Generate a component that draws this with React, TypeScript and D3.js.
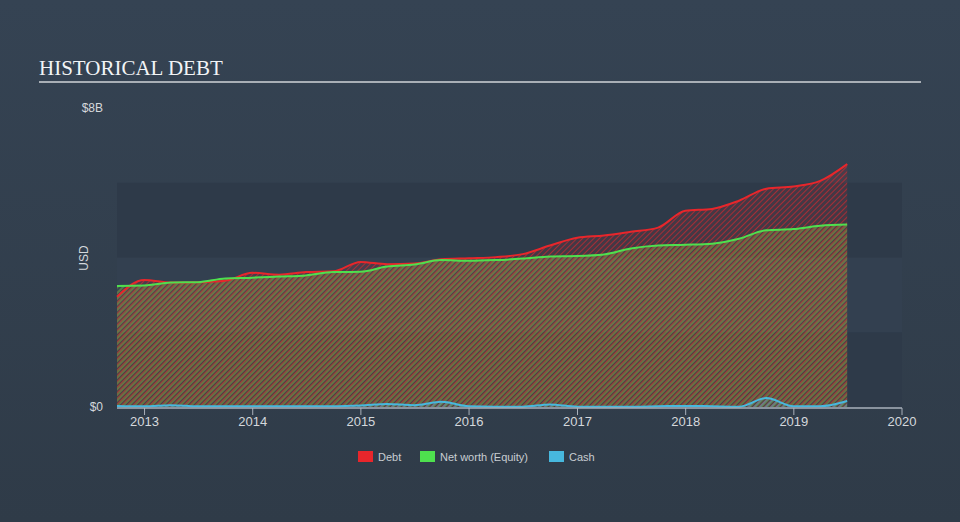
import React from "react";
import * as d3 from "d3";

const quarters: string[] = [
  "2012-09-30","2012-12-31","2013-03-31","2013-06-30","2013-09-30","2013-12-31","2014-03-31","2014-06-30",
  "2014-09-30","2014-12-31","2015-03-31","2015-06-30","2015-09-30","2015-12-31","2016-03-31","2016-06-30",
  "2016-09-30","2016-12-31","2017-03-31","2017-06-30","2017-09-30","2017-12-31","2018-03-31","2018-06-30",
  "2018-09-30","2018-12-31","2019-03-31","2019-06-30",
];
const debt: number[] = [
  2.95, 3.4, 3.33, 3.34, 3.38, 3.59, 3.54, 3.61, 3.63, 3.88, 3.82, 3.84, 3.95, 3.98,
  4.01, 4.09, 4.32, 4.53, 4.59, 4.69, 4.8, 5.25, 5.3, 5.52, 5.84, 5.9, 6.05, 6.5,
];
const equity: number[] = [
  3.24, 3.25, 3.33, 3.34, 3.44, 3.46, 3.49, 3.52, 3.61, 3.62, 3.76, 3.81, 3.93, 3.91,
  3.93, 3.97, 4.03, 4.04, 4.08, 4.24, 4.32, 4.34, 4.37, 4.5, 4.73, 4.76, 4.85, 4.88,
];
const cash: number[] = [
  0.03, 0.02, 0.05, 0.02, 0.02, 0.02, 0.02, 0.02, 0.02, 0.04, 0.08, 0.05, 0.14, 0.02,
  0.01, 0.01, 0.07, 0.01, 0.01, 0.01, 0.02, 0.03, 0.02, 0.01, 0.24, 0.02, 0.02, 0.16,
];
const yearTicks: number[] = [2013, 2014, 2015, 2016, 2017, 2018, 2019, 2020];
const yTickValues: number[] = [0, 8];
const yTickLabels: string[] = ["$0", "$8B"];
const legendItems: string[] = ["Debt", "Net worth (Equity)", "Cash"];

const W = 960;
const H = 522;
const colors = { debt: "#e8262b", equity: "#4ee04e", cash: "#47b8de" };

export default function App() {
  const dates = quarters.map((q) => new Date(q + "T00:00:00"));
  const x = d3
    .scaleTime()
    .domain([new Date("2012-09-30T00:00:00"), new Date("2020-01-01T00:00:00")])
    .range([117, 902]);
  const y = d3.scaleLinear().domain([0, 8]).range([407, 108]);
  const curve = d3.curveMonotoneX;

  const area = (vals: number[]) =>
    d3
      .area<number>()
      .x((_, i) => x(dates[i]))
      .y0(y(0))
      .y1((d) => y(d))
      .curve(curve)(vals) as string;
  const line = (vals: number[]) =>
    d3
      .line<number>()
      .x((_, i) => x(dates[i]))
      .y((d) => y(d))
      .curve(curve)(vals) as string;

  const bands = [
    { lo: 0, hi: 2, fill: "#2e3a49" },
    { lo: 2, hi: 4, fill: "#334050" },
    { lo: 4, hi: 6, fill: "#2e3a49" },
  ];

  const legendX = [358, 420, 549];
  const legendColors = [colors.debt, colors.equity, colors.cash];

  return (
    <svg
      width={W}
      height={H}
      style={{ position: "absolute", left: 0, top: 0 }}
      fontFamily="Liberation Sans, Arial, sans-serif"
    >
      <defs>
        <linearGradient id="bg" x1="0" y1="0" x2="0" y2="1">
          <stop offset="0" stopColor="#354353" />
          <stop offset="1" stopColor="#2f3b48" />
        </linearGradient>
        <pattern id="hatchRed" width="4" height="4" patternUnits="userSpaceOnUse" patternTransform="rotate(45)">
          <rect width="4" height="4" fill="#e8262b" fillOpacity="0.12" />
          <line x1="0" y1="0" x2="0" y2="4" stroke="#e8262b" strokeWidth="2" strokeOpacity="0.6" />
        </pattern>
        <pattern id="hatchGreen" width="4" height="4" patternUnits="userSpaceOnUse" patternTransform="rotate(45)">
          <rect width="4" height="4" fill="#7ae05a" fillOpacity="0.06" />
          <line x1="2" y1="0" x2="2" y2="4" stroke="#b8e040" strokeWidth="2" strokeOpacity="0.3" />
        </pattern>
        <pattern id="hatchBlue" width="4" height="4" patternUnits="userSpaceOnUse" patternTransform="rotate(45)">
          <line x1="1" y1="0" x2="1" y2="4" stroke="#47b8de" strokeWidth="2" strokeOpacity="0.4" />
        </pattern>
      </defs>
      <rect width={W} height={H} fill="url(#bg)" />

      <text x={39} y={75} fontFamily="Liberation Serif, Times New Roman, serif" fontSize={21} fill="#f2f4f6">
        HISTORICAL DEBT
      </text>
      <rect x={39} y={81} width={882} height={2} fill="#a9afb6" />

      {bands.map((b, i) => (
        <rect key={i} x={117} y={y(b.hi)} width={902 - 117} height={y(b.lo) - y(b.hi)} fill={b.fill} />
      ))}

      <path d={area(debt)} fill="url(#hatchRed)" />
      <path d={area(equity)} fill="url(#hatchGreen)" />
      <path d={area(cash)} fill="url(#hatchBlue)" />
      <path d={line(debt)} fill="none" stroke={colors.debt} strokeWidth={2} />
      <path d={line(equity)} fill="none" stroke={colors.equity} strokeWidth={2} />
      <path d={line(cash)} fill="none" stroke={colors.cash} strokeWidth={2} />

      <line x1={117} x2={902} y1={408} y2={408} stroke="#a9b1bb" strokeWidth={1.5} />
      {yearTicks.map((yr) => {
        const xp = x(new Date(`${yr}-01-01T00:00:00`));
        return (
          <g key={yr}>
            <line x1={xp} x2={xp} y1={408} y2={415} stroke="#a9b1bb" strokeWidth={1} />
            <text x={xp} y={426} textAnchor="middle" fontSize={13} fill="#d4d8dc">
              {yr}
            </text>
          </g>
        );
      })}
      {yTickValues.map((v, i) => (
        <text key={v} x={103} y={y(v) + 4} textAnchor="end" fontSize={12} fill="#d4d8dc">
          {yTickLabels[i]}
        </text>
      ))}
      <text
        transform={`translate(88,258) rotate(-90)`}
        textAnchor="middle"
        fontSize={12}
        fill="#d4d8dc"
      >
        USD
      </text>

      {legendItems.map((name, i) => (
        <g key={name}>
          <rect x={legendX[i]} y={451} width={15} height={11} fill={legendColors[i]} />
          <text x={legendX[i] + 20} y={461} fontSize={11} fill="#c8cdd2">
            {name}
          </text>
        </g>
      ))}
    </svg>
  );
}
